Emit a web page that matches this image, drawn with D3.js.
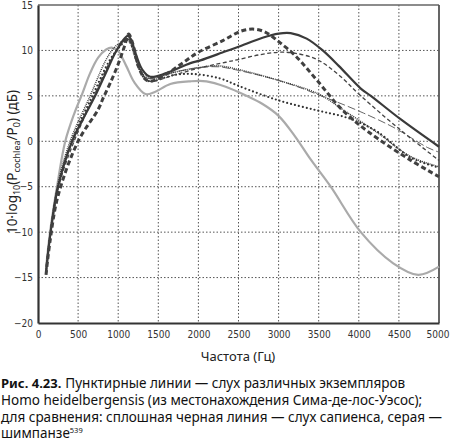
<html>
<head>
  <meta charset="utf-8">
  <title>Cochlear power</title>
  <script src="https://d3js.org/d3.v7.min.js"></script>
  <style>
    body { margin: 0; background: #fff; }
  </style>
</head>
<body>
  <div id="chart"></div>
  <script>
  // values: [frequency Hz, dB]
  var sapiens = [[100,-14.5],[150,-10.5],[250,-5],[425,0],[600,3.1],[735,5.4],[850,7.6],[960,9.7],[1050,11],[1120,11.6],[1160,11.2],[1220,9.6],[1300,7.9],[1400,7.1],[1600,7.5],[1900,8.6],[2025,8.9],[2340,9.9],[2500,10.4],[2800,11.4],[3000,11.85],[3150,11.9],[3350,11.3],[3550,10],[3750,8.3],[4025,5.8],[4150,5],[4525,2.4],[5000,-0.6]];
  var chimp = [[100,-14],[150,-10],[250,-4.3],[340,0],[450,3],[550,5.2],[650,7.5],[750,9.2],[850,10.1],[920,10.3],[1000,9.9],[1100,8.3],[1200,6.5],[1340,5.2],[1450,5.4],[1650,6.3],[1900,6.6],[2100,6.6],[2340,6],[2600,5],[2800,4.1],[3000,2.8],[3200,0.6],[3400,-2],[3650,-5],[4025,-10],[4425,-13.4],[4740,-14.7],[5000,-13.8]];
  var heidThickDash = [[100,-14.7],[150,-11],[250,-6],[500,0],[750,3.5],[815,4.8],[900,6.4],[1000,8.5],[1080,10.5],[1130,11.8],[1180,10.8],[1250,8.3],[1330,6.9],[1400,6.6],[1600,7.4],[1800,8.6],[2000,9.8],[2310,11.1],[2525,12.1],[2675,12.35],[2815,12.1],[2940,11.4],[3025,10.8],[3150,9.9],[3275,8.8],[3480,6.7],[3800,3.4],[4125,1.0],[4650,-2.1],[5000,-3.9]];
  var heidThinDash = [[100,-14.5],[150,-10.8],[250,-5.2],[450,0],[700,5],[900,8.8],[1050,10.8],[1120,11.3],[1170,10.7],[1250,8.5],[1330,7],[1400,6.6],[1700,7.3],[2025,8.1],[2340,8.7],[2500,9],[2750,9.5],[3000,9.8],[3200,9.7],[3480,9],[3750,7.3],[4025,5],[4525,1.2],[5000,-2.1]];
  var heidDenseDot = [[100,-14.5],[150,-10.3],[250,-4.6],[400,0],[650,5],[850,9],[950,10.3],[1050,11],[1100,11.2],[1150,10.8],[1200,9.5],[1300,7.5],[1400,6.9],[1700,7.6],[2000,8.1],[2250,8.3],[2500,7.9],[3000,6.7],[3500,5.2],[3815,3.4],[4240,0.9],[4650,-1.7],[5000,-2.8]];
  var heidRoundDot = [[100,-14.5],[150,-10.5],[250,-5],[420,0],[680,5],[900,9],[1060,10.8],[1120,11.2],[1170,10.5],[1250,8.2],[1330,6.9],[1400,6.6],[1700,7.3],[1950,7.4],[2275,6.9],[2500,6.1],[3000,4.5],[3480,3.4],[3815,2.7],[4025,2.0],[4240,1.0],[4650,-1.8],[5000,-2.9]];
  var heidLongDash = [[100,-14.5],[250,-5],[430,0],[700,5],[920,9],[1060,10.9],[1120,11.3],[1170,10.7],[1250,8.4],[1330,7.1],[1400,6.9],[1700,7.6],[2000,8.1],[2250,8.2],[2500,7.8],[3000,6.7],[3300,5.8],[3500,5.1],[3735,4.3],[4060,3.1],[4440,1.5],[4860,-0.7],[5000,-1.2]];

  var xTicks = [0, 500, 1000, 1500, 2000, 2500, 3000, 3500, 4000, 4500, 5000];
  var yTicks = [-20, -15, -10, -5, 0, 5, 10, 15];
  var captionLines = [
    "Homo heidelbergensis (из местонахождения Сима-де-лос-Уэсос);",
    "для сравнения: сплошная черная линия — слух сапиенса, серая —"
  ];

  var W = 450, H = 440;
  var margin = {top: 5, right: 11, bottom: 117, left: 38},
      width = W - margin.left - margin.right,
      height = H - margin.top - margin.bottom;

  var svg = d3.select("#chart")
    .append("svg")
      .attr("width", W)
      .attr("height", H);

  var g = svg.append("g")
      .attr("transform", "translate(" + margin.left + "," + margin.top + ")");

  var x = d3.scaleLinear().domain([0, 5000]).range([0, width]);
  var y = d3.scaleLinear().domain([-20, 15]).range([height, 0]);

  var tickFont = "'Liberation Sans Narrow', 'DejaVu Sans Condensed', sans-serif";

  // dotted grid
  g.append("g")
    .selectAll("line")
    .data(xTicks.slice(1, -1))
    .enter().append("line")
      .attr("x1", function(d) { return x(d); })
      .attr("x2", function(d) { return x(d); })
      .attr("y1", 0).attr("y2", height)
      .attr("stroke", "#555")
      .attr("stroke-width", 1)
      .attr("stroke-dasharray", "1.5,2");
  g.append("g")
    .selectAll("line")
    .data(yTicks.slice(1, -1))
    .enter().append("line")
      .attr("y1", function(d) { return y(d); })
      .attr("y2", function(d) { return y(d); })
      .attr("x1", 0).attr("x2", width)
      .attr("stroke", "#555")
      .attr("stroke-width", 1)
      .attr("stroke-dasharray", "1.5,2");

  // frame
  g.append("line").attr("x1", 0).attr("x2", width).attr("y1", 0).attr("y2", 0)
    .attr("stroke", "#666").attr("stroke-width", 1.5);
  g.append("line").attr("x1", width).attr("x2", width).attr("y1", 0).attr("y2", height)
    .attr("stroke", "#555").attr("stroke-width", 1.8);

  // curves
  var line = d3.line()
    .x(function(d) { return x(d[0]); })
    .y(function(d) { return y(d[1]); })
    .curve(d3.curveCatmullRom.alpha(0.5));

  var series = [
    {data: chimp, color: "#aaa", w: 2.2, dash: null, cap: "butt"},
    {data: heidLongDash, color: "#666", w: 1, dash: "8,3", cap: "butt"},
    {data: heidRoundDot, color: "#333", w: 2.2, dash: "0,4", cap: "round"},
    {data: heidDenseDot, color: "#3a3a3a", w: 1.5, dash: "1,1", cap: "butt"},
    {data: heidThinDash, color: "#444", w: 1.3, dash: "4,2.5", cap: "butt"},
    {data: sapiens, color: "#3a3a3a", w: 2.2, dash: null, cap: "butt"},
    {data: heidThickDash, color: "#404040", w: 3, dash: "5,3", cap: "butt"}
  ];

  g.append("g")
    .selectAll("path")
    .data(series)
    .enter().append("path")
      .attr("d", function(d) { return line(d.data); })
      .attr("fill", "none")
      .attr("stroke", function(d) { return d.color; })
      .attr("stroke-width", function(d) { return d.w; })
      .attr("stroke-dasharray", function(d) { return d.dash; })
      .attr("stroke-linecap", function(d) { return d.cap; });

  // axes
  var xAxis = g.append("g")
    .attr("transform", "translate(0," + height + ")")
    .call(d3.axisBottom(x).tickValues(xTicks).tickSize(0).tickPadding(8).tickFormat(d3.format("d")));
  var yAxis = g.append("g")
    .call(d3.axisLeft(y).tickValues(yTicks).tickSize(0).tickPadding(5));

  [xAxis, yAxis].forEach(function(a) {
    a.select(".domain").attr("stroke", "#333").attr("stroke-width", 2.2);
    a.selectAll("text")
      .attr("fill", "#333")
      .style("font-family", tickFont)
      .style("font-size", "10px");
  });
  // last x label sits against the window edge
  xAxis.selectAll(".tick text").filter(function(d) { return d === 5000; })
    .attr("text-anchor", "end").attr("dx", 10);

  // axis titles
  svg.append("text")
    .attr("x", 238)
    .attr("y", 361)
    .attr("text-anchor", "middle")
    .style("font-family", "'Noto Sans', sans-serif")
    .style("font-size", "13px")
    .attr("fill", "#222")
    .text("Частота (Гц)");

  var yl = svg.append("text")
    .attr("transform", "translate(17,162) rotate(-90)")
    .attr("text-anchor", "middle")
    .style("font-family", "'Noto Sans', sans-serif")
    .style("font-size", "13.5px")
    .attr("fill", "#222");
  yl.append("tspan").text("10·log");
  yl.append("tspan").attr("dy", 3).style("font-size", "9px").text("10");
  yl.append("tspan").attr("dy", -3).text("(P");
  yl.append("tspan").attr("dy", 3).style("font-size", "9px").text("cochlea");
  yl.append("tspan").attr("dy", -3).text("/P");
  yl.append("tspan").attr("dy", 3).style("font-size", "9px").text("0");
  yl.append("tspan").attr("dy", -3).text(") (дБ)");

  // caption
  var capFont = "'Noto Sans', sans-serif";
  var c1 = svg.append("text")
    .attr("x", 1).attr("y", 388)
    .style("font-family", capFont).style("font-size", "13.5px").attr("fill", "#111");
  c1.append("tspan").style("font-weight", "bold").style("font-size", "13px").text("Рис. 4.23.");
  c1.append("tspan").attr("dx", 4).text("Пунктирные линии — слух различных экземпляров");

  svg.selectAll(".cap")
    .data(captionLines)
    .enter().append("text")
      .attr("class", "cap")
      .attr("x", 1)
      .attr("y", function(d, i) { return 405 + i * 16.5; })
      .style("font-family", capFont).style("font-size", "13.5px").attr("fill", "#111")
      .text(function(d) { return d; });

  var c4 = svg.append("text")
    .attr("x", 1).attr("y", 437.5)
    .style("font-family", capFont).style("font-size", "13.5px").attr("fill", "#111");
  c4.append("tspan").text("шимпанзе");
  c4.append("tspan").attr("dy", -5).style("font-size", "7.5px").text("539");
  </script>
</body>
</html>
